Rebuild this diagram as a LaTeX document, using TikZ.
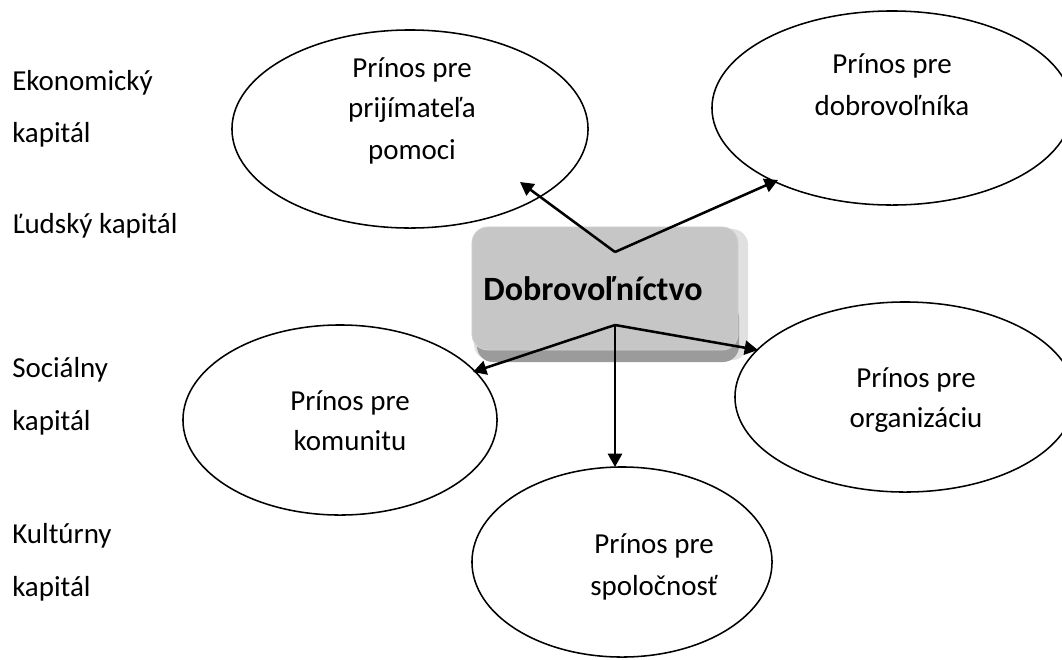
\documentclass[tikz,border=0pt]{standalone}
\usepackage{fontspec}
\setmainfont{Carlito}
\usetikzlibrary{shapes.geometric,arrows.meta}
\definecolor{faceg}{HTML}{C6C6C6}
\definecolor{sideg}{HTML}{E0E0E0}
\definecolor{botg}{HTML}{9B9B9B}
\tikzset{
  lbl/.style={inner sep=0pt, anchor=base west, font=\fontsize{20.6pt}{24pt}\selectfont},
  etxt/.style={inner sep=0pt, anchor=base, font=\fontsize{20.6pt}{24pt}\selectfont},
  oval/.style={ellipse, draw=black, line width=1.1pt, inner sep=0pt},
  arr/.style={line width=1.8pt, -{Triangle[length=9.5pt,width=10pt]}},
}
\begin{document}
\begin{tikzpicture}[x=0.025cm,y=-0.025cm]
\useasboundingbox (0,0) rectangle (1062,659);
\clip (0,0) rectangle (1062,659);
% ellipses
\node[oval, minimum width=8.9cm, minimum height=4.95cm] (e1) at (410,129) {};
\node[oval, minimum width=9cm, minimum height=4.85cm] (e2) at (892,108) {};
\node[oval, minimum width=7.85cm, minimum height=4.75cm] (e3) at (340,420) {};
\node[oval, minimum width=8.5cm, minimum height=4.75cm] (e4) at (905,397) {};
\node[oval, minimum width=7.5cm, minimum height=4.75cm] (e5) at (622,562) {};
% ellipse texts
\node[etxt] (e1a) at (412,77) {Prínos pre};
\node[etxt] (e1b) at (412,117) {prijímateľa};
\node[etxt] (e1c) at (412,159) {pomoci};
\node[etxt] (e2a) at (892,73) {Prínos pre};
\node[etxt] (e2b) at (892,115) {dobrovoľníka};
\node[etxt] (e3a) at (350,410) {Prínos pre};
\node[etxt] (e3b) at (350,450) {komunitu};
\node[etxt] (e4a) at (916,387) {Prínos pre};
\node[etxt] (e4b) at (916,427) {organizáciu};
\node[etxt] (e5a) at (654,553) {Prínos pre};
\node[etxt] (e5b) at (654,595) {spoločnosť};
% left labels
\node[lbl] (l1) at (12,90) {Ekonomický};
\node[lbl] (l2) at (12,142) {kapitál};
\node[lbl] (l3) at (12,233) {Ľudský kapitál};
\node[lbl] (l4) at (12,377) {Sociálny};
\node[lbl] (l5) at (12,430) {kapitál};
\node[lbl] (l6) at (12,543) {Kultúrny};
\node[lbl] (l7) at (12,596) {kapitál};
% central beveled box
\node[rounded corners=0.4cm, fill=sideg, minimum width=6.85cm, minimum height=3.275cm, inner sep=0pt] (bs) at (611,294.5) {};
\node[rounded corners=0.4cm, fill=botg, minimum width=6.55cm, minimum height=1.5cm, inner sep=0pt] (bb) at (608,332) {};
\node[rounded corners=0.4cm, fill=faceg, draw=faceg!80!white, line width=0.6pt, minimum width=6.65cm, minimum height=3.075cm, inner sep=0pt] (box) at (605,288.5) {};
\node[inner sep=0pt, anchor=base, font=\fontsize{24.2pt}{28pt}\selectfont\bfseries] (dobt) at (593,300) {Dobrovoľníctvo};
% connectors
\coordinate (jt) at (615,252);
\coordinate (jb) at (615,325);
\coordinate (t1) at (520,182);
\coordinate (t2) at (778,180);
\coordinate (t3) at (473,372);
\coordinate (t4) at (615,467);
\coordinate (t5) at (758,350);
\draw[arr] (jt) -- (t1);
\draw[arr] (jt) -- (t2);
\draw[arr] (jb) -- (t3);
\draw[arr] (jb) -- (t4);
\draw[arr] (jb) -- (t5);
\end{tikzpicture}
\end{document}
